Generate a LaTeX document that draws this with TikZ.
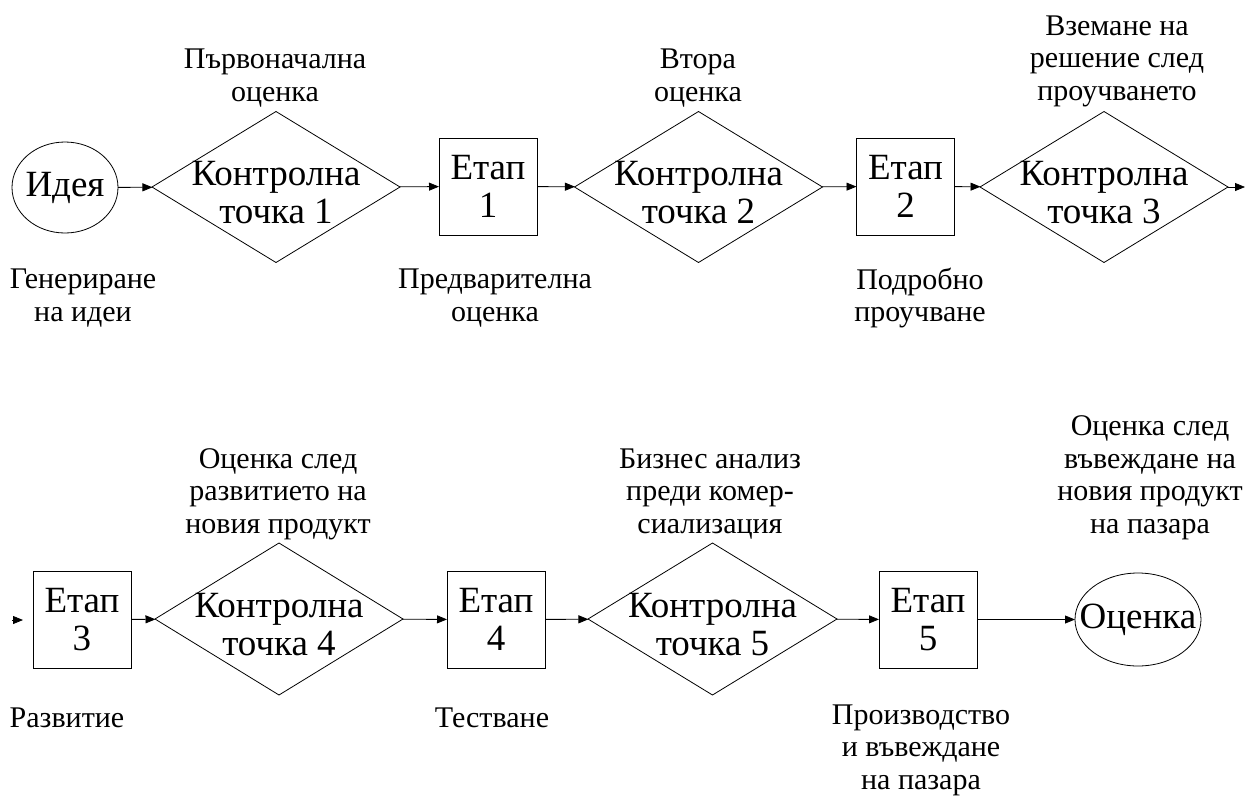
\documentclass[tikz,border=0pt]{standalone}
\usepackage{fontspec}
\setmainfont{Liberation Serif}
\usetikzlibrary{shapes.geometric,arrows.meta}
\begin{document}
\begin{tikzpicture}[x=1pt,y=-1pt,
  every node/.style={inner sep=0pt, outer sep=0pt},
  big/.style={font=\fontsize{37}{38}\selectfont, align=center},
  lab/.style={font=\fontsize{30}{32.5}\selectfont, align=center},
  dia/.style={draw, diamond, minimum width=248pt, minimum height=151pt},
  stagebox/.style={draw, rectangle, minimum width=98pt, minimum height=97pt, big},
  oval/.style={draw, ellipse},
  arr/.style={-{Triangle[length=10pt,width=8pt]}},
  line width=0.8pt]
\useasboundingbox (0,0) rectangle (1245,796);

% ---- row 1 ----
\node[oval, minimum width=106pt, minimum height=91pt,
  label={[big]center:Идея}] (idea) at (65,187.5) {};
\node[dia, label={[big,yshift=-6pt]center:Контролна\\точка 1}] (d1) at (276,187) {};
\node[stagebox] (s1) at (488,186.5) {Етап\\1};
\node[dia, label={[big,yshift=-6pt]center:Контролна\\точка 2}] (d2) at (698.5,187) {};
\node[stagebox] (s2) at (905.5,186.5) {Етап\\2};
\node[dia, label={[big,yshift=-6pt]center:Контролна\\точка 3}] (d3) at (1104,187) {};
\coordinate (out1) at (1245,187);

\draw[arr] (idea) -- (d1);
\draw[arr] (d1) -- (s1);
\draw[arr] (s1) -- (d2);
\draw[arr] (d2) -- (s2);
\draw[arr] (s2) -- (d3);
\draw[arr] (d3) -- (out1);

\node[lab] (l1) at (275,78) {Първоначална\\оценка};
\node[lab] (l2) at (698,78) {Втора\\оценка};
\node[lab] (l3) at (1117,61) {Вземане на\\решение след\\проучването};
\node[lab] (b1) at (83,298) {Генериране\\на идеи};
\node[lab] (b2) at (495,298) {Предварителна\\оценка};
\node[lab] (b3) at (920,298) {Подробно\\проучване};

% ---- row 2 ----
\coordinate (in2a) at (12,620);
\coordinate (in2b) at (23,620);
\draw[arr] (in2a) -- (in2b);
\node[stagebox] (s3) at (82,619.5) {Етап\\3};
\node[dia, minimum width=248pt, minimum height=152pt,
  label={[big,yshift=-6pt]center:Контролна\\точка 4}] (d4) at (279,619) {};
\node[stagebox] (s4) at (496,619.5) {Етап\\4};
\node[dia, minimum width=249pt, minimum height=152pt,
  label={[big,yshift=-6pt]center:Контролна\\точка 5}] (d5) at (712.5,619) {};
\node[stagebox] (s5) at (928,619.5) {Етап\\5};
\node[oval, minimum width=126pt, minimum height=93pt,
  label={[big]center:Оценка}] (ev) at (1138,619.5) {};

\draw[arr] (s3) -- (d4);
\draw[arr] (d4) -- (s4);
\draw[arr] (s4) -- (d5);
\draw[arr] (d5) -- (s5);
\draw[arr] (s5) -- (ev);

\node[lab] (l4) at (278,494) {Оценка след\\развитието на\\новия продукт};
\node[lab] (l5) at (710,494) {Бизнес анализ\\преди комер-\\сиализация};
\node[lab] (l6) at (1150,478) {Оценка след\\въвеждане на\\новия продукт\\на пазара};
\node[lab] (b4) at (67,718) {Развитие};
\node[lab] (b5) at (492,718) {Тестване};
\node[lab] (b6) at (921,750) {Производство\\и въвеждане\\на пазара};
\end{tikzpicture}
\end{document}
